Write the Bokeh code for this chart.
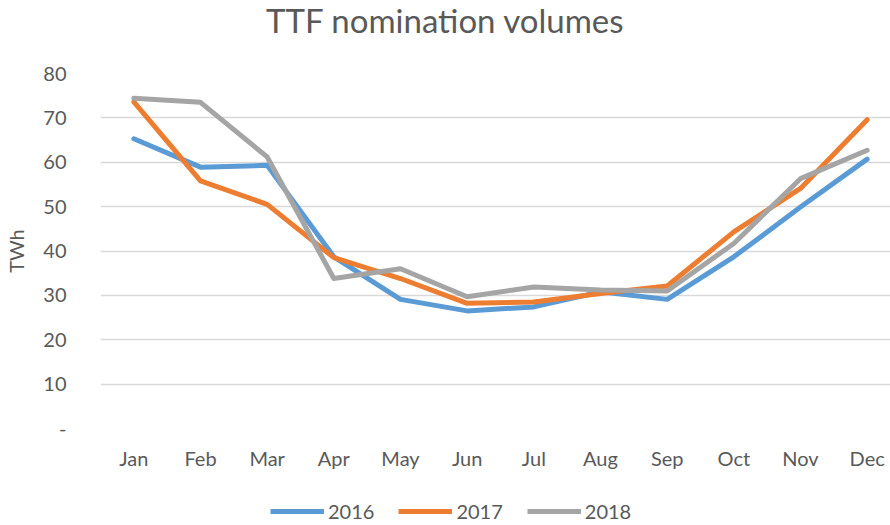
from bokeh.plotting import figure
from bokeh.models import Range1d, FixedTicker, Legend, LegendItem, Label
from bokeh.layouts import column
from bokeh.embed import file_html
from bokeh.resources import INLINE

title_text = "TTF nomination volumes"
y_label = "TWh"
months = ["Jan", "Feb", "Mar", "Apr", "May", "Jun", "Jul", "Aug", "Sep", "Oct", "Nov", "Dec"]
v2016 = [65.3, 58.9, 59.3, 38.7, 29.1, 26.5, 27.4, 30.8, 29.1, 38.7, 49.9, 60.7]
v2017 = [73.6, 55.8, 50.5, 38.5, 33.8, 28.2, 28.5, 30.4, 32.1, 44.3, 54.1, 69.6]
v2018 = [74.4, 73.5, 61.2, 33.8, 36.0, 29.7, 31.9, 31.2, 31.0, 41.7, 56.3, 62.7]
years = ["2016", "2017", "2018"]
colors = ["#5B9BD5", "#ED7D31", "#A5A5A5"]
yticks = [0, 10, 20, 30, 40, 50, 60, 70, 80]

FONT = "Lato"
TXT = "#595959"

xs = list(range(len(months)))
series = [v2016, v2017, v2018]

# ---- title strip (its frame is aligned with the chart frame, which starts 100px in) ----
tf = figure(width=890, height=36, output_backend="svg", toolbar_location=None, title=None,
            x_axis_type=None, y_axis_type=None, x_range=Range1d(0, 1), y_range=Range1d(0, 1),
            min_border_left=0, min_border_right=0, min_border_top=0, min_border_bottom=0)
tf.outline_line_color = None
tf.grid.visible = False
tf.add_layout(Label(x=345, y=17, x_units="screen", y_units="screen", text=title_text,
                    text_align="center", text_baseline="alphabetic",
                    text_font=FONT, text_font_size="33px", text_color=TXT))

# ---- main chart ----
p = figure(width=890, height=454, output_backend="svg", toolbar_location=None, title=None,
           x_range=Range1d(-0.5, 11.35), y_range=Range1d(0, 80),
           min_border_left=100, min_border_right=0, min_border_top=37, min_border_bottom=62)
p.outline_line_color = None

for vals, c in zip(series, colors):
    p.line(xs, vals, line_color=c, line_width=5, line_join="round", line_cap="round")

p.xaxis.ticker = FixedTicker(ticks=xs)
p.xaxis.major_label_overrides = {i: m for i, m in enumerate(months)}
p.yaxis.ticker = FixedTicker(ticks=yticks)
p.yaxis.major_label_overrides = {0: "-"}
p.yaxis.axis_label = y_label

for ax in [p.xaxis[0], p.yaxis[0]]:
    ax.axis_line_color = None
    ax.major_tick_line_color = None
    ax.minor_tick_line_color = None
    ax.major_label_text_font = FONT
    ax.major_label_text_font_size = "20px"
    ax.major_label_text_color = TXT
    ax.axis_label_text_font = FONT
    ax.axis_label_text_font_size = "20px"
    ax.axis_label_text_font_style = "normal"
    ax.axis_label_text_color = TXT

p.xaxis.major_label_standoff = 11
p.yaxis.major_label_standoff = 28
p.yaxis.axis_label_standoff = 12

p.xgrid.grid_line_color = None
p.ygrid.ticker = FixedTicker(ticks=yticks)
p.ygrid.grid_line_color = "#D9D9D9"
p.ygrid.grid_line_width = 1.5

# ---- legend strip (key lines use the series data, kept outside this strip's view) ----
lf = figure(width=890, height=35, output_backend="svg", toolbar_location=None, title=None,
            x_axis_type=None, y_axis_type=None, x_range=Range1d(0, 1), y_range=Range1d(-2, -1),
            min_border_left=0, min_border_right=0, min_border_top=0, min_border_bottom=0)
lf.outline_line_color = None
lf.grid.visible = False
key_renderers = [lf.line(xs, vals, line_color=c, line_width=5, line_cap="butt")
                 for vals, c in zip(series, colors)]

legend = Legend(items=[LegendItem(label=y, renderers=[r]) for y, r in zip(years, key_renderers)],
                orientation="horizontal", location=(170, 2),
                label_text_font=FONT, label_text_font_size="20px", label_text_color=TXT,
                glyph_width=54, glyph_height=20, label_height=20, spacing=24, padding=0, margin=0,
                label_standoff=4, border_line_color=None, background_fill_alpha=0)
lf.add_layout(legend, "center")

layout = column(tf, p, lf, spacing=0)
open("out.html", "w").write(file_html(layout, INLINE))
